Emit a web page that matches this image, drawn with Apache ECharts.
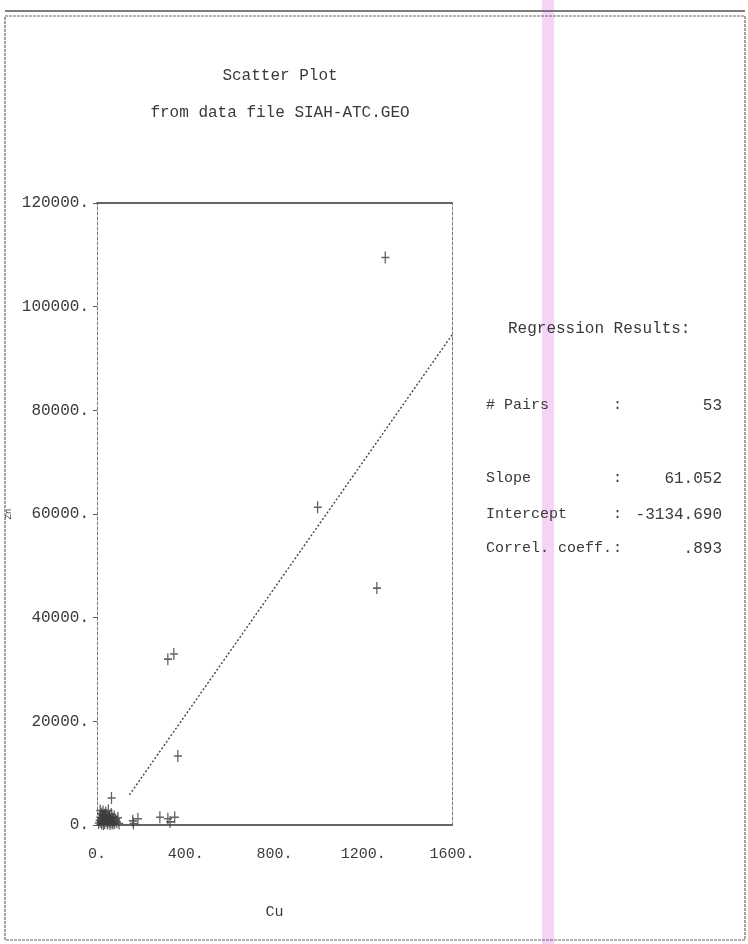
<!DOCTYPE html>
<html>
<head>
<meta charset="utf-8">
<script src="https://cdn.jsdelivr.net/npm/echarts@6/dist/echarts.min.js"></script>
<style>
  html, body { margin: 0; padding: 0; background: #fff; }
  #scatter_main { width: 748px; height: 944px; }
</style>
</head>
<body>
<div id="scatter_main"></div>
<script>
// Cu (x) against the y variable, 53 pairs
const cuValues = [
  1300, 995, 1262, 320, 347, 365, 66,
  162, 165, 185, 284, 320, 351, 330,
  8, 12, 15, 18, 20, 22, 25, 28, 30, 32, 35, 38, 40, 42, 45, 48, 50, 52, 55,
  58, 60, 62, 65, 68, 70, 72, 75, 78, 80, 85, 90, 95, 100, 15, 25, 35, 45, 55, 30
];
const yValues = [
  109500, 61300, 45700, 32000, 33000, 13300, 5200,
  800, 300, 1200, 1500, 1200, 1500, 600,
  400, 900, 1500, 600, 2200, 300, 1200, 2600, 800, 1800, 400, 1400, 2400, 700, 1900, 300, 1100, 2800, 600,
  1600, 200, 900, 2100, 500, 1300, 300, 800, 1700, 400, 1000, 600, 1400, 300, 2800, 1900, 2000, 1000, 1500, 200
];
const fitLine = [[146, 5800], [1600, 94550]];
const xTicks = [0, 400, 800, 1200, 1600];
const yTicks = [0, 20000, 40000, 60000, 80000, 100000, 120000];
const resultLabels = ['# Pairs', 'Slope', 'Intercept', 'Correl. coeff.'];
const resultValues = ['53', '61.052', '-3134.690', '.893'];

var chartDom = document.getElementById('scatter_main');
var myChart = echarts.init(chartDom, null, { renderer: 'canvas' });
var option;

const mono = '"Liberation Mono", "DejaVu Sans Mono", monospace';
const ink = '#3a3a3a';
const plus = 'path://M4,0 L5.6,0 L5.6,5.2 L10,5.2 L10,6.8 L5.6,6.8 L5.6,12 L4,12 L4,6.8 L0,6.8 L0,5.2 L4,5.2 Z';

const points = cuValues.map(function (x, i) { return [x, yValues[i]]; });
const resultRowsY = [408, 481, 517, 551];
const colonX = [613, 613, 613, 613];

const graphics = [
  // scan artefact band
  { type: 'rect', shape: { x: 542, y: 0, width: 12, height: 944 }, style: { fill: 'rgba(236,160,236,0.45)' }, silent: true, z: 0 },
  // page frame
  { type: 'rect', shape: { x: 5, y: 16, width: 740, height: 924 }, style: { fill: 'none', stroke: '#666', lineWidth: 1.2, lineDash: [3, 1] }, z: 1 },
  { type: 'line', shape: { x1: 5, y1: 11, x2: 745, y2: 11 }, style: { stroke: '#555', lineWidth: 1.5 }, z: 1 },
  { type: 'text', left: 508, top: 321, style: { text: 'Regression Results:', font: '16px ' + mono, fill: ink } }
];
resultLabels.forEach(function (label, i) {
  graphics.push({ type: 'text', left: 486, top: resultRowsY[i] - 10, style: { text: label, font: '15px ' + mono, fill: ink } });
  graphics.push({ type: 'text', left: colonX[i], top: resultRowsY[i] - 10, style: { text: ':', font: '15px ' + mono, fill: ink } });
  graphics.push({ type: 'text', right: 748 - 722, top: resultRowsY[i] - 10, style: { text: resultValues[i], font: '16px ' + mono, fill: ink, align: 'right' } });
});

option = {
  backgroundColor: '#fff',
  animation: false,
  title: {
    text: 'Scatter Plot\nfrom data file SIAH-ATC.GEO',
    left: 275,
    top: 52,
    textAlign: 'center',
    textStyle: { fontFamily: mono, fontSize: 16, fontWeight: 'normal', color: ink, lineHeight: 37 }
  },
  grid: { left: 97, right: 296, top: 203, bottom: 119 },
  xAxis: [
    {
      type: 'value', min: 0, max: 1600, interval: 400, position: 'bottom',
      name: 'Cu', nameLocation: 'middle', nameGap: 80,
      nameTextStyle: { fontFamily: mono, fontSize: 15, color: ink },
      axisLine: { onZero: false, lineStyle: { color: '#333', width: 1.5 } },
      axisTick: { show: false },
      splitLine: { show: false },
      axisLabel: {
        margin: 22, fontFamily: mono, fontSize: 15, color: ink,
        formatter: function (v) { return xTicks.indexOf(v) >= 0 ? v + '.' : ''; }
      }
    },
    {
      type: 'value', min: 0, max: 1600, position: 'top',
      axisLine: { show: true, onZero: false, lineStyle: { color: '#333', width: 1.5 } },
      axisTick: { show: false }, axisLabel: { show: false }, splitLine: { show: false }
    }
  ],
  yAxis: [
    {
      type: 'value', min: 0, max: 120000, interval: 20000, position: 'left',
      name: 'Zn', nameLocation: 'middle', nameGap: 84, nameRotate: 90,
      nameTextStyle: { fontFamily: mono, fontSize: 9, color: ink },
      axisLine: { show: true, onZero: false, lineStyle: { color: '#777', width: 1, type: [3, 2] } },
      axisTick: { show: true, length: 4, lineStyle: { color: '#555' } },
      splitLine: { show: false },
      axisLabel: {
        margin: 8, fontFamily: mono, fontSize: 16, color: ink,
        formatter: function (v) { return yTicks.indexOf(v) >= 0 ? v + '.' : ''; }
      }
    },
    {
      type: 'value', min: 0, max: 120000, position: 'right',
      axisLine: { show: true, onZero: false, lineStyle: { color: '#777', width: 1, type: [3, 2] } },
      axisTick: { show: false }, axisLabel: { show: false }, splitLine: { show: false }
    }
  ],
  series: [
    {
      type: 'line',
      data: fitLine,
      symbol: 'none',
      lineStyle: { color: '#444', width: 1.4, type: [2, 2] },
      z: 2
    },
    {
      type: 'scatter',
      data: points,
      symbol: plus,
      symbolSize: [8, 12],
      itemStyle: { color: '#3c3c3c' },
      z: 3
    }
  ],
  graphic: graphics
};

option && myChart.setOption(option);
</script>
</body>
</html>
